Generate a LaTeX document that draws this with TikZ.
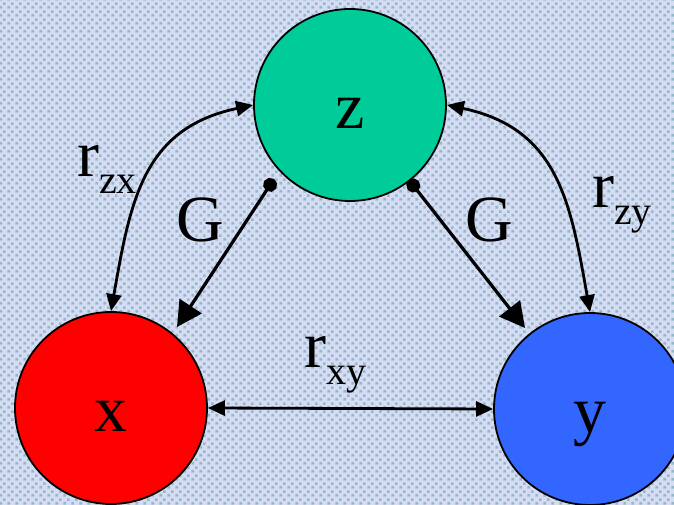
\documentclass[tikz,border=0pt]{standalone}
\usepackage{fontspec}
\setmainfont{Liberation Serif}
\usetikzlibrary{arrows.meta,patterns}
\definecolor{bgblue}{RGB}{214,220,244}
\definecolor{bgdot}{RGB}{150,185,200}
\definecolor{zgreen}{RGB}{0,204,153}
\definecolor{xred}{RGB}{255,0,0}
\definecolor{yblue}{RGB}{51,102,255}
\pgfdeclarepatternformonly{dotgrid}{\pgfqpoint{0pt}{0pt}}{\pgfqpoint{8pt}{8pt}}{\pgfqpoint{8pt}{8pt}}{%
  \pgfpathrectangle{\pgfqpoint{0.5pt}{0.5pt}}{\pgfqpoint{3pt}{3pt}}%
  \pgfpathrectangle{\pgfqpoint{4.5pt}{4.5pt}}{\pgfqpoint{3pt}{3pt}}%
  \pgfusepath{fill}}
\newcommand{\rlab}[1]{r\raisebox{-17pt}{\fontsize{40}{40}\selectfont #1}}

\begin{document}
\begin{tikzpicture}[
  x=1pt, y=1pt,
  var/.style={circle, draw, line width=1.8pt, minimum size=192pt, inner sep=0pt,
    text height=48pt, text depth=0pt, font=\fontsize{66}{66}\selectfont},
  lab/.style={inner sep=0pt, anchor=base west, font=\fontsize{66}{66}\selectfont},
  corr/.style={{Triangle[length=17pt,width=15pt]}-{Triangle[length=17pt,width=15pt]}, line width=2.8pt},
  gpath/.style={{Circle[length=14pt]}-{Triangle[length=25pt,width=26pt]}, line width=3.2pt}
]
\useasboundingbox (0,0) rectangle (674,505);
\fill[bgblue] (0,0) rectangle (674,505);
\fill[pattern=dotgrid, pattern color=bgdot] (0,0) rectangle (674,505);
\begin{scope}
\clip (0,0) rectangle (674,505);
\node[var, fill=zgreen] (z) at (350,400) {z};
\node[var, fill=xred] (x) at (111,97) {x};
\node[var, fill=yblue] (y) at (590,96) {y};

\coordinate (zl) at ([shift={(-76,-74)}]z.center);
\coordinate (zr) at ([shift={(59,-75)}]z.center);
\coordinate (xr) at ([shift={(66,81)}]x.center);
\coordinate (yl) at ([shift={(-65,81)}]y.center);

\draw[gpath] (zl) -- (xr);
\draw[gpath] (zr) -- (yl);
\draw[corr] (x.east) -- (y.west);
\draw[corr] (z.west) to[out=192, in=80, looseness=1.15] (x.north);
\draw[corr] (z.east) to[out=-12, in=100, looseness=1.15] (y.north);

\node[lab] (gl) at (176,263) {G};
\node[lab] (gr) at (465,263) {G};
\node[lab] (rzx) at (77,328) {\rlab{zx}};
\node[lab] (rzy) at (592,297) {\rlab{zy}};
\node[lab] (rxy) at (304,137) {\rlab{xy}};
\end{scope}
\end{tikzpicture}
\end{document}
